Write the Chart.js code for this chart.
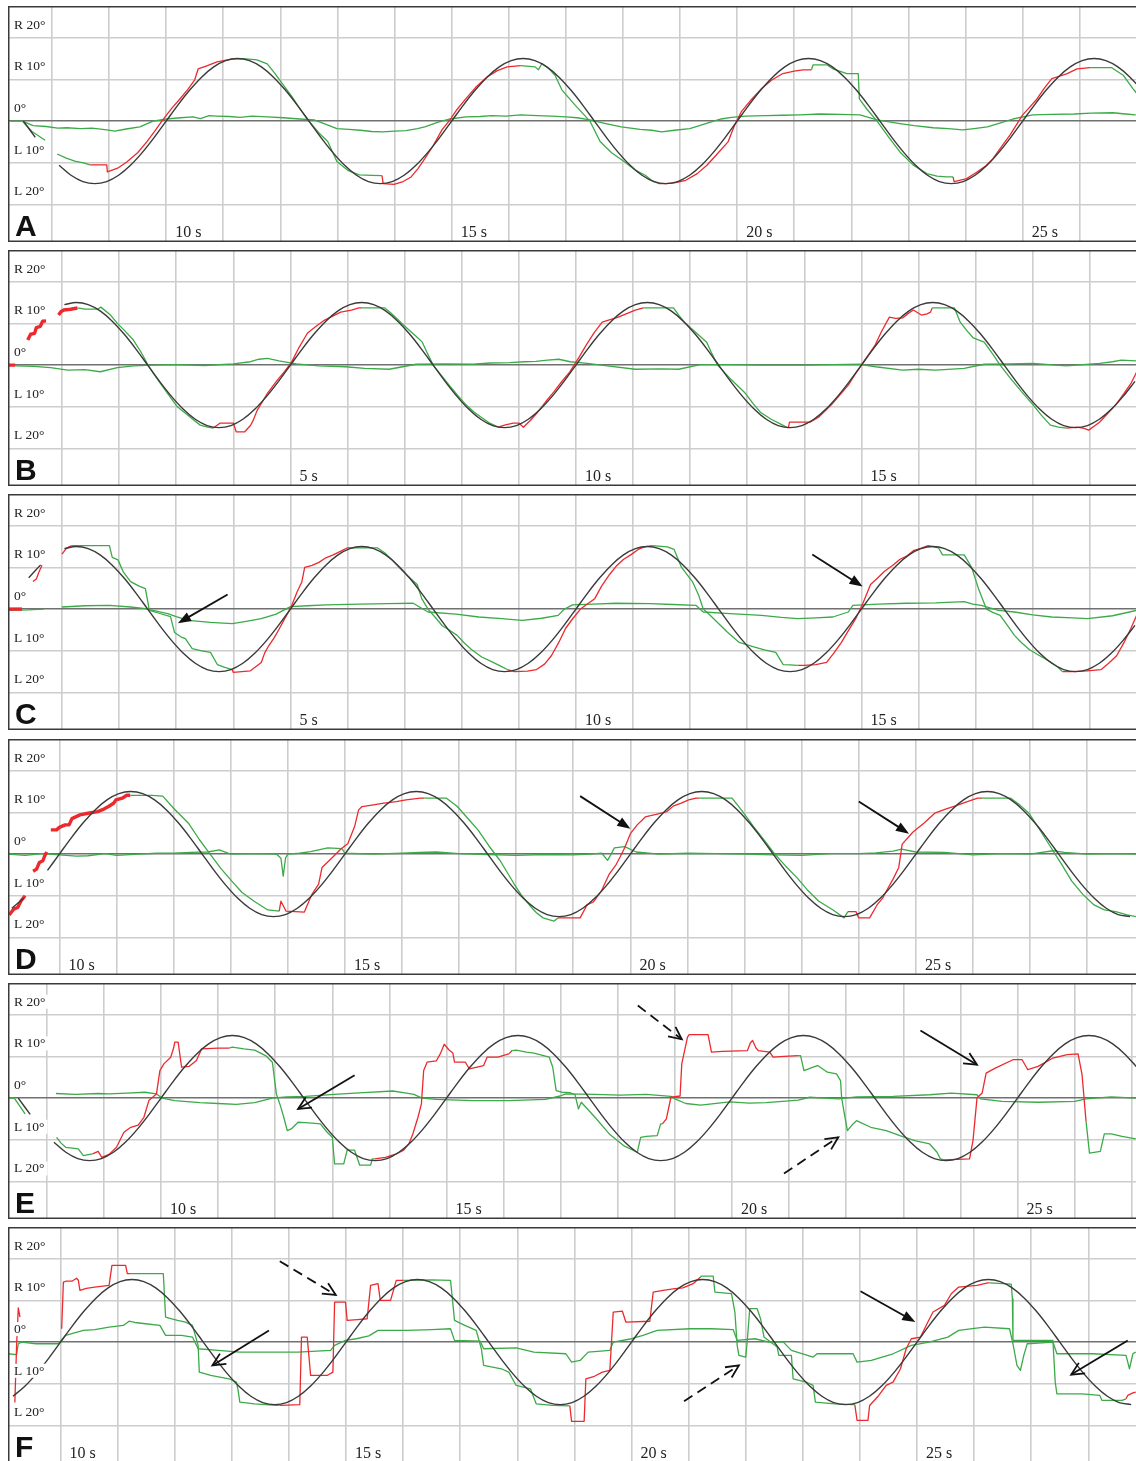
<!DOCTYPE html>
<html>
<head>
<meta charset="utf-8">
<script src="https://cdn.jsdelivr.net/npm/chart.js"></script>
<style>
  body { margin: 0; background: #fff; }
  #page { position: relative; width: 1136px; height: 1461px; overflow: hidden; }
  canvas { position: absolute; left: 8px; }
</style>
</head>
<body>
<div id="page"></div>
<script>
// axis ticks and labels
const Y_TICKS = [-20, -10, 0, 10, 20];
const Y_LABELS = ['L 20°', 'L 10°', '0°', 'R 10°', 'R 20°'];

// stimulus (black), one sample every 5/24 s
const STIM_STEP = 5 / 24;
const STIM_DEG = [
  0, 3.9, 7.5, 10.6, 13, 14.5, 15, 14.5, 13, 10.6, 7.5, 3.9, 0, -3.9, -7.5, -10.6, -13, -14.5, -15, -14.5, -13, -10.6, -7.5, -3.9,
  0, 3.9, 7.5, 10.6, 13, 14.5, 15, 14.5, 13, 10.6, 7.5, 3.9, 0, -3.9, -7.5, -10.6, -13, -14.5, -15, -14.5, -13, -10.6, -7.5, -3.9,
  0, 3.9, 7.5, 10.6, 13, 14.5, 15, 14.5, 13, 10.6, 7.5, 3.9, 0, -3.9, -7.5, -10.6, -13, -14.5, -15, -14.5, -13, -10.6, -7.5, -3.9,
  0, 3.9, 7.5, 10.6, 13, 14.5, 15, 14.5, 13, 10.6, 7.5, 3.9, 0, -3.9, -7.5, -10.6, -13, -14.5, -15, -14.5, -13, -10.6, -7.5, -3.9,
  0, 3.9, 7.5, 10.6, 13, 14.5, 15, 14.5, 13, 10.6, 7.5, 3.9, 0, -3.9, -7.5, -10.6, -13, -14.5, -15, -14.5, -13, -10.6, -7.5, -3.9,
  0, 3.9, 7.5, 10.6, 13, 14.5, 15, 14.5, 13, 10.6, 7.5, 3.9, 0, -3.9, -7.5, -10.6, -13, -14.5, -15, -14.5, -13, -10.6, -7.5, -3.9,
  0
];

// ---- panel A ----
const A_STIM = [[7.44, 7.88], [8.06, 27.1]];
const A_RED = [
  [8.67,-10.5],[8.96,-10.5],[8.97,-12.2],[9.15,-11.3],[9.31,-9.8],[9.5,-7.6],[9.66,-5],[9.8,-2.4],[9.94,0.3],[10.1,3.1],[10.24,5.3],[10.38,7.6],[10.5,9.9],[10.56,12.5],[10.7,13.2],[10.89,14.2],[11.17,14.9], null,
  [13.78,-13.1],[13.8,-15.0],[13.99,-15.2],[14.15,-14.5],[14.29,-13.4],[14.41,-11.4],[14.53,-9],[14.68,-5.8],[14.83,-2.1],[14.97,0.3],[15.1,2.9],[15.25,5.4],[15.42,8.1],[15.62,10.6],[15.8,12.1],[15.97,13],[16.21,13.3], null,
  [18.63,-15],[18.75,-15],[18.9,-14.8],[19.1,-14.2],[19.3,-12.6],[19.47,-10.6],[19.65,-7.9],[19.84,-5],[19.95,-1.2],[20.07,2.2],[20.25,5.2],[20.43,7.8],[20.6,9.8],[20.8,11.4],[21.0,12.0],[21.15,12.3],[21.3,12.3], null,
  [23.78,-13.4],[23.8,-14.5],[24.02,-13.8],[24.2,-12.2],[24.35,-10.8],[24.48,-9],[24.62,-6.3],[24.78,-3.3],[25.0,1.5],[25.12,3.3],[25.25,5.3],[25.38,7.9],[25.51,10.2],[25.65,10.8],[25.78,11.4],[25.95,12.5],[26.18,12.8]
];
const A_GREEN = [
  [7.48,0],[7.65,-2.5],[7.88,-4.6], null,
  [8.09,-7.9],[8.25,-8.9],[8.4,-9.6],[8.55,-10.0],[8.67,-10.5], null,
  [11.17,14.9],[11.4,14.9],[11.59,14.7],[11.77,13.7],[11.9,11.5],[12.05,8.7],[12.2,5.9],[12.35,2.8],[12.5,0],[12.68,-2.9],[12.83,-4.9],[12.99,-9.7],[13.18,-11.8],[13.38,-12.9],[13.6,-13.0],[13.78,-13.1], null,
  [16.21,13.3],[16.46,13],[16.52,12.3],[16.58,13.8],[16.7,12.6],[16.81,11.0],[16.93,7.5],[17.15,4],[17.3,1.8],[17.42,0],[17.6,-4.9],[17.8,-7.6],[18.02,-9.7],[18.2,-11.6],[18.39,-13],[18.5,-14.2],[18.63,-15], null,
  [21.3,12.3],[21.33,13.5],[21.57,13.5],[21.68,12.5],[21.92,11.4],[22.12,11.4],[22.14,5.3],[22.27,2.9],[22.45,0],[22.65,-3.8],[22.85,-7.4],[23.08,-10.5],[23.32,-12.6],[23.5,-13.2],[23.67,-13.4],[23.78,-13.4], null,
  [26.18,12.8],[26.56,12.8],[26.76,11],[26.93,7.8],[26.99,6.8]
];
const A_ZERO = [
  [7.27,0],[7.48,0],[7.67,-1.1],[7.9,-1.3],[8.1,-1.7],[8.26,-1.6],[8.5,-1.8],[8.7,-1.7],[8.96,-2.1],[9.1,-2.4],[9.3,-1.9],[9.54,-1.4],[9.77,0],[10.01,0.5],[10.25,0.8],[10.47,1.0],[10.6,0.6],[10.75,1.3],[10.89,1.2],[11.1,1.1],[11.3,0.9],[11.5,1.2],[11.77,1.0],[12.05,0.8],[12.34,0.5],[12.59,0.3],[12.8,-0.8],[12.99,-1.8],[13.2,-2.0],[13.4,-2.2],[13.6,-2.5],[13.8,-2.6],[14.0,-2.4],[14.2,-2.3],[14.4,-1.8],[14.53,-1.4],[14.75,-0.3],[14.97,0.5],[15.25,1.0],[15.5,1.1],[15.7,1.3],[15.95,1.2],[16.21,1.5],[16.5,1.3],[16.75,1.2],[17.0,1.0],[17.2,0.8],[17.42,0.3],[17.7,-0.6],[17.97,-1.4],[18.3,-2.0],[18.5,-2.2],[18.68,-2.6],[18.9,-2.2],[19.17,-1.8],[19.45,-0.6],[19.72,0.5],[19.9,0.9],[20.14,1.2],[20.5,1.3],[20.8,1.4],[21.1,1.5],[21.45,1.7],[21.8,1.6],[22.15,1.5],[22.3,0.9],[22.45,0.3],[22.85,-0.6],[23.1,-1.1],[23.43,-1.6],[23.7,-1.8],[23.95,-2.1],[24.15,-1.8],[24.38,-1.4],[24.6,-0.5],[24.83,0.5],[25.0,1.0],[25.18,1.5],[25.5,1.6],[25.9,1.7],[26.2,1.9],[26.58,2.0],[26.8,1.7],[26.98,1.5]
];

// ---- panel B ----
const B_STIM = [[0.3, 0.62], [0.95, 19.9]];
const B_THICK = [[0.05,0],[0.18,0], null, [0.40,6.0],[0.45,7.4],[0.52,7.6],[0.55,9.0],[0.62,9.3],[0.66,10.5],[0.72,10.6], null, [0.94,12.0],[0.98,12.8],[1.03,13.2],[1.15,13.4],[1.27,13.7]];
const B_RED = [
  [3.65,-15.1],[3.77,-13.9],[4.0,-13.9],[4.05,-16],[4.2,-16],[4.3,-14.5],[4.35,-13.2],[4.42,-10.8],[4.6,-6.7],[4.77,-3.6],[4.9,-1.5],[5.02,0.7],[5.15,4.2],[5.3,7.7],[5.45,9.3],[5.6,10.8],[5.75,11.8],[5.88,12.7],[6.07,13.2],[6.2,13.7],[6.26,13.7], null,
  [8.64,-14.9],[8.75,-14.4],[8.9,-13.9],[9.0,-13.9],[9.08,-14.9],[9.2,-13.3],[9.33,-11.3],[9.47,-8.8],[9.61,-6.5],[9.75,-4.0],[9.89,-1.7],[10.05,1.8],[10.18,4.8],[10.32,7.8],[10.46,10.3],[10.6,10.9],[10.74,11.5],[10.9,12.4],[11.04,13.2],[11.18,13.7], null,
  [13.72,-15.1],[13.74,-13.7],[14.1,-13.7],[14.25,-12.5],[14.36,-11.0],[14.47,-9.6],[14.62,-7.2],[14.77,-4.8],[14.88,-2.4],[15.0,0],[15.12,2.4],[15.24,4.8],[15.35,8.0],[15.49,11.5],[15.6,11.2],[15.72,11.3],[15.82,12.4],[15.91,13.2],[16.05,12.0],[16.15,12.3],[16.21,12.7],[16.24,13.7], null,
  [18.59,-15.1],[18.78,-14.9],[18.9,-15.2],[18.98,-15.6],[19.08,-14.6],[19.17,-13.7],[19.3,-11.8],[19.45,-9.6],[19.6,-6.8],[19.72,-4.4],[19.82,-1.7]
];
const B_GREEN = [
  [1.27,13.7],[1.4,13.4],[1.62,13.4],[1.68,13.9],[1.85,12],[1.97,10],[2.1,8.2],[2.25,6],[2.38,3.2],[2.5,0.2],[2.6,-2.0],[2.72,-4.3],[2.87,-7.2],[3.02,-10],[3.2,-12],[3.3,-13.1],[3.42,-14.4],[3.55,-14.9],[3.65,-15.1], null,
  [6.26,13.7],[6.65,13.7],[6.75,12.6],[6.84,11.5],[6.98,9.6],[7.12,7.9],[7.2,6.9],[7.31,5.5],[7.4,2.8],[7.5,0],[7.64,-2.4],[7.78,-4.8],[7.93,-7.3],[8.08,-9.6],[8.22,-11.3],[8.36,-12.7],[8.5,-14.0],[8.64,-14.9], null,
  [11.18,13.7],[11.71,13.7],[11.8,12.0],[11.9,10.3],[12.1,7.8],[12.29,5.5],[12.38,2.8],[12.48,0],[12.7,-3.2],[12.95,-6.5],[13.1,-9.2],[13.23,-11.3],[13.42,-13.0],[13.62,-14.4],[13.72,-15.1], null,
  [16.24,13.7],[16.63,13.7],[16.73,10.3],[16.85,8.2],[16.96,6.5],[17.15,5.5],[17.3,2.6],[17.43,0],[17.6,-3.0],[17.8,-6.3],[18.01,-9.6],[18.15,-12.0],[18.31,-14.4],[18.45,-14.9],[18.59,-15.1]
];
const B_ZERO = [
  [0.18,-0.2],[0.5,-0.3],[0.8,-0.6],[1.1,-1.2],[1.4,-1.1],[1.67,-1.6],[1.97,-0.6],[2.25,-0.2],[2.6,0],[3.0,0.1],[3.5,-0.1],[4.0,0.3],[4.3,0.8],[4.45,1.4],[4.6,1.6],[4.8,1.0],[5.1,0.3],[5.5,-0.2],[5.96,-0.4],[6.3,-0.8],[6.73,-1.0],[7.2,0.2],[7.7,0.3],[8.2,0.2],[8.5,0.5],[8.84,0.6],[9.1,0.8],[9.3,0.9],[9.5,1.2],[9.7,1.4],[9.9,0.8],[10.2,0.4],[10.55,-0.2],[11.04,-1.0],[11.5,-0.9],[11.8,-1.0],[12.18,0.1],[12.7,0.1],[13.3,0],[14.0,0],[14.5,0.1],[14.97,0.2],[15.25,-0.4],[15.72,-1.2],[16.0,-1.0],[16.3,-1.2],[16.8,-0.8],[17.15,0.2],[17.6,0.3],[18.0,0.4],[18.59,-0.2],[19.17,0.4],[19.4,0.8],[19.55,1.2],[19.82,1.0]
];

// ---- panel C ----
const C_STIM = [[0.3, 0.68], [0.98, 19.9]];
const C_THICK = [[0.05,0],[0.3,0]];
const C_RED = [
  [0.49,6.6],[0.55,7.2],[0.6,9.0],[0.65,10.5], null,
  [1.0,13.2],[1.08,14.6],[1.17,15.2], null,
  [3.98,-14.5],[4.0,-15.2],[4.3,-14.8],[4.49,-12.8],[4.55,-10.5],[4.62,-8.8],[4.72,-6.8],[4.81,-4.6],[4.9,-2.3],[5.0,0.1],[5.12,4.2],[5.2,6.5],[5.25,10],[5.38,10.5],[5.5,11.2],[5.62,12.3],[5.75,13],[5.9,14.0],[6.0,14.7],[6.1,14.7], null,
  [8.8,-14.5],[8.92,-15],[9.15,-14.9],[9.31,-14.5],[9.45,-13.2],[9.57,-11.2],[9.7,-8.0],[9.82,-4.6],[9.95,-2.2],[10.08,0],[10.2,1.2],[10.33,2.5],[10.45,5.5],[10.59,8.3],[10.7,10.2],[10.83,11.9],[10.96,13.0],[11.09,14.3],[11.2,14.9],[11.34,15.2], null,
  [13.88,-13.5],[14.0,-13.5],[14.2,-13.3],[14.39,-12.8],[14.52,-10.5],[14.65,-8],[14.78,-5.0],[14.9,-2.3],[15.03,1.5],[15.16,5.9],[15.28,7.4],[15.4,9],[15.55,10.5],[15.67,11.9],[15.8,12.8],[15.91,14],[16.05,14.6],[16.17,15.2],[16.35,14.7], null,
  [18.52,-15],[18.7,-15],[18.95,-14.8],[19.2,-14.5],[19.33,-13.0],[19.47,-11.2],[19.6,-8.0],[19.72,-4.6],[19.82,-1.5]
];
const C_GREEN = [
  [1.17,15.2],[1.83,15.2],[1.88,12.4],[1.98,11.8],[2.07,9],[2.2,6.6],[2.35,5.5],[2.46,4.9],[2.53,-0.3],[2.7,-1.0],[2.9,-1.8],[2.97,-5.6],[3.1,-6.8],[3.16,-7.1],[3.28,-9.5],[3.45,-10.0],[3.6,-10.4],[3.72,-13.3],[3.85,-14.0],[3.98,-14.5], null,
  [6.1,14.7],[6.52,14.7],[6.65,13.5],[6.78,11.8],[6.9,10],[7.05,8.0],[7.22,5.9],[7.3,2.5],[7.41,0],[7.55,-2.2],[7.66,-4],[7.8,-5.2],[7.92,-6.3],[8.05,-8.2],[8.17,-9.7],[8.35,-11.5],[8.55,-12.8],[8.7,-13.8],[8.8,-14.5], null,
  [11.34,15.2],[11.6,14.9],[11.72,14.3],[11.85,10],[11.95,8.2],[12.04,6.6],[12.15,3.3],[12.23,0],[12.35,-1.5],[12.48,-3.2],[12.65,-5.5],[12.86,-8],[13.1,-9.0],[13.3,-9.8],[13.5,-10.4],[13.63,-13.3],[13.75,-13.4],[13.88,-13.5], null,
  [16.35,14.7],[16.42,13.0],[16.8,13.0],[16.93,10],[17.05,4.9],[17.19,0],[17.3,-0.8],[17.43,-1.5],[17.55,-3.8],[17.68,-6.3],[17.8,-8.0],[17.94,-9.7],[18.1,-11.0],[18.33,-12.8],[18.45,-14.0],[18.52,-15]
];
const C_ZERO = [
  [0.05,-0.3],[0.4,-0.2],[0.68,0], null,
  [1.0,0.5],[1.4,0.8],[1.83,0.9],[2.2,0.5],[2.46,0.1],[2.85,-1.1],[3.0,-1.8],[3.21,-2.7],[3.6,-3.2],[3.98,-3.5],[4.2,-3.0],[4.49,-2.3],[4.75,-1.2],[5.0,0.6],[5.3,0.8],[5.63,1],[6.2,1.2],[6.7,1.3],[7.15,1.4],[7.41,-0.7],[7.9,-1.2],[8.3,-1.9],[8.7,-2.3],[9.06,-2.7],[9.4,-2.2],[9.69,-1.5],[9.8,0],[9.94,1],[10.3,1.2],[10.7,1.4],[11.3,1.3],[11.7,1.1],[12.1,0.9],[12.23,-0.7],[12.7,-1.1],[13.25,-1.5],[13.6,-2.0],[13.88,-2.3],[14.2,-2.1],[14.5,-1.9],[14.77,-0.7],[14.85,0.9],[15.3,1.2],[15.79,1.4],[16.3,1.5],[16.8,1.8],[16.95,1.2],[17.1,0.9],[17.4,-0.3],[17.68,-0.7],[18.0,-1.4],[18.33,-1.9],[18.7,-2.1],[18.96,-2.3],[19.4,-1.6],[19.82,-0.3]
];
const C_ARROWS = [
  { from: [3.9, 3.5], to: [3.03, -3.4], kind: 'solid' },
  { from: [14.14, 13.1], to: [15.02, 5.4], kind: 'solid' }
];

// ---- panel D ----
const D_STIM = [[9.1, 9.48], [9.75, 28.9]];
const D_THICK = [
  [9.12,-14.6],[9.2,-13.2],[9.27,-12.8],[9.33,-11.2],[9.4,-10], null,
  [9.54,-4.1],[9.6,-3.6],[9.65,-2.0],[9.71,-1.6],[9.75,-0.2],[9.78,0.5], null,
  [9.85,5.8],[9.95,5.8],[10.0,6.4],[10.1,7.0],[10.17,7.0],[10.22,8.5],[10.36,9.4],[10.5,9.8],[10.67,10.2],[10.78,10.8],[10.86,11.4],[10.95,12.2],[10.99,13],[11.1,13.4],[11.18,14.1],[11.24,14.1]
];
const D_RED = [
  [13.85,-13.7],[13.88,-11.3],[13.97,-13.7],[14.29,-13.9],[14.42,-9.7],[14.54,-7.2],[14.6,-3.2],[14.79,-0.7],[14.93,1.2],[15.05,2.5],[15.17,6.6],[15.24,10.6],[15.3,11.4],[15.5,11.8],[15.68,12.2],[15.9,12.6],[16.07,13],[16.32,13.4],[16.39,13.4], null,
  [18.73,-15.3],[19.12,-15.3],[19.24,-12.2],[19.35,-11.5],[19.49,-8.9],[19.63,-4.8],[19.75,-2.5],[19.82,-0.7],[19.9,1.5],[20.0,4.9],[20.12,7.0],[20.26,8.9],[20.45,9.5],[20.64,10.2],[20.75,11.5],[20.89,12.2],[21.02,13.0],[21.15,13.4],[21.2,13.4], null,
  [23.81,-13.8],[23.95,-13.8],[24.0,-15.3],[24.19,-15.3],[24.32,-12.2],[24.42,-10.5],[24.51,-8.2],[24.6,-6.0],[24.7,-3.2],[24.76,2.4],[24.95,5.3],[25.15,7.5],[25.33,9.8],[25.52,10.8],[25.72,11.7],[25.9,12.6],[26.08,13.4],[26.16,13.4]
];
const D_GREEN = [
  [11.24,14.1],[11.62,14.1],[11.81,13.9],[12.0,11.0],[12.26,7.4],[12.45,3.5],[12.64,0],[12.83,-3.5],[13.02,-6.5],[13.2,-9.2],[13.41,-11.3],[13.65,-13.4],[13.85,-13.7], null,
  [16.39,13.4],[16.78,13.4],[16.97,11.4],[17.15,8.6],[17.33,5.8],[17.52,2.0],[17.72,-1.6],[17.97,-7.3],[18.1,-10.0],[18.23,-12.2],[18.35,-14.0],[18.47,-15.3],[18.66,-16.1],[18.73,-15.3], null,
  [21.2,13.4],[21.78,13.4],[21.95,10.5],[22.16,6.5],[22.35,3.2],[22.53,0],[22.72,-2.9],[22.92,-5.7],[23.1,-8.6],[23.3,-11.3],[23.55,-13.4],[23.74,-15.3],[23.81,-13.8], null,
  [26.16,13.4],[26.66,13.4],[26.8,12.0],[26.98,9.8],[27.18,5.6],[27.36,1.7],[27.55,-2.4],[27.73,-6.5],[27.92,-9.6],[28.12,-12.2],[28.3,-13.4],[28.5,-13.8],[28.7,-14.6],[28.86,-15]
];
const D_ZERO = [
  [9.1,0],[9.4,-0.3],[9.7,0.1],[10.0,-0.2],[10.3,-0.5],[10.5,-0.4],[10.8,0.1],[11.0,-0.3],[11.4,0],[11.7,0.2],[12.0,0.2],[12.3,0.4],[12.6,0.5],[12.8,1.0],[13.0,0],[13.4,0.1],[13.8,0],[13.88,-1],[13.92,-5.3],[13.96,-1],[14.0,0],[14.2,0.2],[14.4,0.6],[14.7,1.5],[14.95,1.3],[15.0,0.2],[15.5,0],[16.0,0.2],[16.3,0.4],[16.6,0.5],[17.0,0.1],[17.5,-0.1],[18.0,-0.3],[18.5,-0.1],[19.0,-0.2],[19.3,0],[19.5,0.2],[19.6,-1.5],[19.65,-0.3],[19.72,1.5],[19.9,1.8],[20.1,0.5],[20.5,0],[21.0,0.2],[21.5,0.1],[22.0,0],[22.5,-0.2],[23.0,-0.3],[23.5,0.1],[24.0,0.1],[24.3,0.3],[24.6,0.7],[24.75,1.2],[25.0,0.5],[25.5,0.4],[26.0,-0.2],[26.5,0.1],[27.0,0],[27.4,0.8],[27.6,0.4],[28.0,0],[28.5,0.1],[28.86,0]
];
const D_ARROWS = [
  { from: [19.12, 13.9], to: [20.0, 6.1], kind: 'solid' },
  { from: [24.0, 12.6], to: [24.88, 4.9], kind: 'solid' }
];

// ---- panel E ----
const E_STIM = [[7.43, 7.76], [8.05, 27.1]];
const E_RED = [
  [8.8,-13.4],[8.9,-12.8],[8.96,-14.2],[9.09,-13.5],[9.22,-11.8],[9.35,-8.2],[9.47,-7],[9.6,-6.5],[9.7,-4.6],[9.79,-0.5],[9.92,1],[9.98,6.6],[10.05,8.2],[10.17,9.8],[10.22,12.0],[10.24,13.4],[10.3,13.4],[10.36,7.4],[10.49,7.6],[10.62,9],[10.71,11.8],[11.0,12],[11.19,12.0], null,
  [13.74,-14.6],[13.93,-14.2],[14.12,-13.4],[14.25,-12.5],[14.34,-11.0],[14.41,-8.6],[14.5,-4.6],[14.56,-1.4],[14.6,6.6],[14.66,8.6],[14.82,8.9],[14.89,10.6],[14.96,12.9],[15.04,11.6],[15.11,10.8],[15.14,8.6],[15.33,8.6],[15.4,7],[15.65,7.8],[15.71,9.8],[15.9,9.8],[16.09,10.6],[16.15,11.4], null,
  [18.78,-6.2],[18.85,-5.0],[18.93,0.2],[19.09,0.5],[19.12,8.2],[19.22,14.6],[19.25,15.2],[19.58,15.2],[19.64,11],[19.83,11.2],[20.27,11.4],[20.32,13.2],[20.36,13.8],[20.42,12.0],[20.46,11.4],[20.66,11],[20.72,9.8],[20.91,10],[21.16,10.2], null,
  [23.71,-14.8],[24.16,-14.6],[24.22,-10.2],[24.29,0],[24.38,1.2],[24.45,6],[24.61,7.2],[24.92,9.2],[25.08,9.2],[25.18,6.8],[25.36,7.6],[25.62,9.6],[25.87,10.4],[26.06,10.6],[26.13,5.6],[26.2,-5.6]
];
const E_GREEN = [
  [7.32,0],[7.43,0],[7.52,-1.8],[7.62,-3.8], null,
  [8.17,-9.4],[8.25,-10.8],[8.33,-11.8],[8.45,-12.0],[8.55,-12.2],[8.64,-13.8],[8.8,-13.4], null,
  [11.19,12.0],[11.25,12.2],[11.45,11.8],[11.64,11.5],[11.83,10.2],[11.95,8.6],[12.02,1],[12.08,-1.4],[12.15,-4.6],[12.21,-7.8],[12.28,-7.4],[12.4,-5.8],[12.52,-5.9],[12.65,-6.0],[12.79,-6.2],[12.91,-8.2],[13.0,-9.4],[13.04,-15.8],[13.2,-15.8],[13.26,-12.5],[13.39,-12.5],[13.48,-16.1],[13.67,-16.1],[13.7,-14.6],[13.74,-14.6], null,
  [16.15,11.4],[16.22,11.5],[16.4,11.0],[16.53,10.8],[16.7,10.2],[16.8,9.8],[16.86,7.4],[16.92,1.8],[17.02,1.4],[17.16,1.3],[17.25,0.8],[17.31,-2.6],[17.36,-1.0],[17.6,-4.6],[17.85,-8.6],[18.1,-11.4],[18.34,-13],[18.4,-9.4],[18.5,-9.2],[18.69,-9],[18.75,-6.2],[18.78,-6.2], null,
  [21.16,10.2],[21.2,10.2],[21.26,6.6],[21.42,7.4],[21.5,7.8],[21.67,6.2],[21.83,5.8],[21.9,4.2],[21.92,0],[21.96,-3.2],[22.02,-7.8],[22.12,-6.2],[22.18,-5.4],[22.43,-7],[22.7,-7.8],[22.94,-9],[23.2,-10.2],[23.46,-11.0],[23.59,-13],[23.65,-14.6],[23.71,-14.8], null,
  [26.2,-5.6],[26.26,-13.2],[26.45,-12.8],[26.52,-8.6],[26.64,-8.6],[26.83,-9.2],[27.07,-9.8]
];
const E_ZERO = [
  [8.16,1.1],[8.5,0.9],[8.9,1.1],[9.09,1.0],[9.4,1.2],[9.72,1.4],[9.92,1.0],[10.02,0],[10.24,-0.6],[10.68,-1.1],[11.0,-1.3],[11.32,-1.5],[11.64,-1.1],[11.95,0],[12.2,0.3],[12.53,0.4],[13.03,0.9],[13.55,1.3],[14.06,1.7],[14.3,1.2],[14.43,0.9],[14.57,0],[14.82,-0.3],[15.46,-0.6],[16.09,-0.6],[16.73,-0.3],[16.99,0.5],[17.09,1.0],[17.6,0.9],[18.04,0.7],[18.5,0.9],[18.93,0.4],[19.0,-0.2],[19.19,-1.3],[19.45,-1.7],[19.96,-0.9],[20.3,-1.2],[20.6,-1.1],[21.16,-0.5],[21.36,0.2],[21.86,-0.2],[22.18,0.3],[22.82,0.4],[23.46,0.8],[23.84,1.2],[24.29,0.8],[24.35,-0.2],[24.73,-0.8],[25.36,-1.0],[26.0,-0.8],[26.2,-0.2],[26.64,0.3],[27.07,0]
];
const E_ARROWS = [
  { from: [13.39, 5.5], to: [12.4, -2.6], kind: 'open' },
  { from: [18.35, 22.2], to: [19.12, 14.1], kind: 'dashed' },
  { from: [20.91, -18.1], to: [21.86, -9.4], kind: 'dashed' },
  { from: [23.3, 16.2], to: [24.29, 8.0], kind: 'open' }
];

// ---- panel F ----
const F_STIM = [[9.08, 28.9]];
const F_RED = [
  [9.2,-14.5],[9.23,-1.0],[9.26,8.2],[9.29,6.0], null,
  [10.02,3.2],[10.05,14.4],[10.1,14.6],[10.2,14.6],[10.28,15.3],[10.31,14.9],[10.34,12.4],[10.45,12.9],[10.6,13.2],[10.85,13.6],[10.9,18.4],[11.14,18.4],[11.17,16.4],[11.23,16.4], null,
  [13.84,-15.2],[14.19,-15],[14.22,1.2],[14.32,1.2],[14.38,-8],[14.67,-8],[14.77,-7.2],[14.8,9.6],[14.99,9.6],[15.02,5.2],[15.2,5.4],[15.37,5.6],[15.43,13.6],[15.56,14],[15.6,10],[15.78,10],[15.88,14.8],[16.01,14.8], null,
  [18.92,-15.3],[18.95,-19],[19.17,-19],[19.2,-8.8],[19.35,-8.2],[19.49,-7.2],[19.62,-6.8],[19.68,7.2],[19.84,7.4],[19.9,4.8],[20.32,5],[20.38,12],[20.55,12.4],[20.76,12.8],[20.9,13.0],[21.08,14],[21.21,15.6], null,
  [23.91,-15],[23.95,-18.8],[24.14,-18.8],[24.17,-15.2],[24.33,-12.8],[24.46,-10.4],[24.58,-9.6],[24.71,-6.4],[24.81,-1.6],[24.9,0.8],[25.06,1.2],[25.19,4.8],[25.28,7.2],[25.48,8.8],[25.6,11.6],[25.73,13.2],[26.05,13.6],[26.24,14.2],[26.27,14.2], null,
  [28.66,-13.6],[28.69,-12.8],[28.78,-12.2],[28.83,-12]
];
const F_GREEN = [
  [11.23,16.4],[11.8,16.4],[11.84,6],[11.93,5.6],[12.05,5.2],[12.19,4.8],[12.31,4.0],[12.41,-0.8],[12.43,-7.2],[12.63,-8],[12.95,-8.8],[13.08,-9.6],[13.11,-11.6],[13.14,-14.4],[13.4,-14.8],[13.78,-15.2],[13.84,-15.2], null,
  [16.01,14.8],[16.5,14.9],[16.83,14.8],[16.9,5.2],[17.08,4.0],[17.28,2.8],[17.37,-1.6],[17.41,-5.6],[17.72,-6.4],[17.85,-7.2],[17.98,-10.4],[18.23,-11.2],[18.33,-14.8],[18.62,-15.2],[18.92,-15.3], null,
  [21.21,15.6],[21.22,15.8],[21.43,15.8],[21.46,12],[21.75,11.6],[21.81,7.2],[21.85,-0.8],[21.88,-3.2],[22.0,-3.6],[22.03,0.8],[22.07,8],[22.2,8],[22.26,5.6],[22.32,1.2],[22.55,-1.2],[22.58,-3.2],[22.8,-3.2],[22.83,-8.8],[23.06,-9.6],[23.18,-10.4],[23.22,-14.4],[23.56,-14.8],[23.88,-15],[23.91,-15], null,
  [26.27,14.2],[26.5,14.0],[26.65,13.9],[26.67,10.4],[26.68,0.4],[27.0,0.4],[27.38,0.4],[27.42,-9.6],[27.45,-12.4],[27.89,-12.4],[28.2,-12.8],[28.24,-14],[28.59,-14],[28.66,-13.6]
];
const F_ZERO = [
  [9.08,-2.8],[9.23,-3.0],[9.26,-0.4],[9.32,0],[9.57,-0.4],[9.96,-0.4],[10.09,1.6],[10.4,2.8],[10.6,3.0],[10.85,3.6],[11.1,4.0],[11.2,5.0],[11.3,4.7],[11.49,4.4],[11.74,4.0],[11.84,1.6],[12.12,1.6],[12.31,1.2],[12.41,-1.6],[12.76,-2.0],[13.14,-2.4],[13.71,-2.4],[14.16,-2.4],[14.73,-2.0],[14.8,-0.8],[14.99,0.4],[15.18,0.8],[15.4,1.5],[15.56,2.8],[16.07,2.8],[16.5,3.0],[16.83,3.2],[16.9,0.4],[17.35,0.2],[17.41,-1.6],[17.98,-1.4],[18.29,-2.4],[18.85,-2.8],[18.95,-4.8],[19.1,-4.4],[19.24,-2.4],[19.62,-2.0],[19.68,0],[20.0,0.8],[20.2,1.6],[20.45,2.8],[21.02,3.2],[21.4,3.2],[21.78,3.0],[21.85,0.4],[22.16,0.8],[22.41,0],[22.66,0],[22.8,-2.0],[23.18,-3.6],[23.25,-2.8],[23.88,-2.8],[23.95,-4.8],[24.2,-4.4],[24.58,-2.8],[24.9,-0.8],[25.21,0],[25.54,1.2],[25.73,2.8],[26.18,3.6],[26.62,3.2],[26.68,-0.4],[26.75,-5.6],[26.81,-6.8],[26.87,-3.2],[26.93,-0.4],[27.38,0],[27.45,-2.8],[28.08,-2.8],[28.66,-3.2],[28.72,-6.4],[28.78,-2.8],[28.83,-2.4]
];
const F_ARROWS = [
  { from: [13.84, 19.4], to: [14.82, 11.3], kind: 'dashed' },
  { from: [13.65, 2.8], to: [12.66, -5.6], kind: 'open' },
  { from: [20.92, -14.2], to: [21.88, -5.6], kind: 'dashed' },
  { from: [24.01, 12.2], to: [24.97, 4.8], kind: 'solid' },
  { from: [28.69, 0.4], to: [27.7, -7.8], kind: 'open' }
];

const PANELS = [
  { id: 'A', top: 6,    xMin: 7.23,  times: [10, 15, 20, 25], stim: A_STIM, red: A_RED, green: A_GREEN, zero: A_ZERO, thick: [], arrows: [] },
  { id: 'B', top: 250,  xMin: 0.054, times: [5, 10, 15],      stim: B_STIM, red: B_RED, green: B_GREEN, zero: B_ZERO, thick: B_THICK, arrows: [] },
  { id: 'C', top: 494,  xMin: 0.054, times: [5, 10, 15],      stim: C_STIM, red: C_RED, green: C_GREEN, zero: C_ZERO, thick: C_THICK, arrows: C_ARROWS },
  { id: 'D', top: 739,  xMin: 9.10,  times: [10, 15, 20, 25], stim: D_STIM, red: D_RED, green: D_GREEN, zero: D_ZERO, thick: D_THICK, arrows: D_ARROWS },
  { id: 'E', top: 983,  xMin: 7.32,  times: [10, 15, 20, 25], stim: E_STIM, red: E_RED, green: E_GREEN, zero: E_ZERO, thick: [], arrows: E_ARROWS },
  { id: 'F', top: 1227, xMin: 9.08,  times: [10, 15, 20, 25], stim: F_STIM, red: F_RED, green: F_GREEN, zero: F_ZERO, thick: [], arrows: F_ARROWS }
];

const W = 1128, H = 236;
const X_SPAN = W / 57.1;
const RED = '#ec2a2e', GREEN = '#3caa48', STIM = '#3a3a3a';

// [t, deg] pairs with null as a break -> chart points
function pts(arr) {
  const out = [];
  let lastX = 0;
  arr.forEach(p => {
    if (p === null) out.push({ x: lastX, y: null });
    else { out.push({ x: p[0], y: p[1] }); lastX = p[0]; }
  });
  return out;
}

function stimPts(spans) {
  const out = [];
  spans.forEach((s, i) => {
    if (i) out.push({ x: s[0], y: null });
    STIM_DEG.forEach((v, k) => {
      const t = k * STIM_STEP;
      if (t >= s[0] && t <= s[1]) out.push({ x: t, y: v });
    });
  });
  return out;
}

function drawArrow(ctx, x0, y0, x1, y1, kind) {
  const ang = Math.atan2(y1 - y0, x1 - x0), L = 14;
  ctx.strokeStyle = '#111';
  ctx.fillStyle = '#111';
  ctx.lineWidth = 1.8;
  ctx.setLineDash(kind === 'dashed' ? [10, 6] : []);
  const back = kind === 'solid' ? L * 0.8 : 0;
  ctx.beginPath();
  ctx.moveTo(x0, y0);
  ctx.lineTo(x1 - back * Math.cos(ang), y1 - back * Math.sin(ang));
  ctx.stroke();
  ctx.setLineDash([]);
  const spread = kind === 'solid' ? 0.36 : 0.45;
  const a1 = ang + Math.PI - spread, a2 = ang + Math.PI + spread;
  ctx.beginPath();
  ctx.moveTo(x1 + L * Math.cos(a1), y1 + L * Math.sin(a1));
  ctx.lineTo(x1, y1);
  ctx.lineTo(x1 + L * Math.cos(a2), y1 + L * Math.sin(a2));
  if (kind === 'solid') { ctx.closePath(); ctx.fill(); } else ctx.stroke();
}

function decor(p) {
  return {
    id: 'decor' + p.id,
    afterDatasetsDraw(chart) {
      const { ctx, chartArea: a, scales: { x, y } } = chart;
      ctx.save();
      p.arrows.forEach(ar => drawArrow(ctx,
        x.getPixelForValue(ar.from[0]), y.getPixelForValue(ar.from[1]),
        x.getPixelForValue(ar.to[0]), y.getPixelForValue(ar.to[1]), ar.kind));

      ctx.font = '13.5px "Liberation Serif"';
      ctx.textBaseline = 'alphabetic';
      Y_TICKS.forEach((v, i) => {
        const by = y.getPixelForValue(v) - 9;
        const w = ctx.measureText(Y_LABELS[i]).width;
        ctx.fillStyle = '#fff';
        ctx.fillRect(a.left + 4, by - 11, w + 5, 14);
        ctx.fillStyle = '#222';
        ctx.fillText(Y_LABELS[i], a.left + 6, by);
      });

      ctx.font = '16px "Liberation Serif"';
      ctx.fillStyle = '#222';
      p.times.forEach(t => ctx.fillText(t + ' s', x.getPixelForValue(t) + 9, a.bottom - 5));

      ctx.font = 'bold 30px "Liberation Sans"';
      ctx.fillStyle = '#111';
      ctx.fillText(p.id, a.left + 7, a.bottom - 6);

      ctx.strokeStyle = '#3a3a3a';
      ctx.lineWidth = 1.5;
      ctx.beginPath();
      ctx.moveTo(a.right, a.top + 0.75);
      ctx.lineTo(a.left + 0.75, a.top + 0.75);
      ctx.lineTo(a.left + 0.75, a.bottom - 0.75);
      ctx.lineTo(a.right, a.bottom - 0.75);
      ctx.stroke();
      ctx.restore();
    }
  };
}

const page = document.getElementById('page');
PANELS.forEach(p => {
  const cv = document.createElement('canvas');
  cv.width = W; cv.height = H;
  cv.style.top = p.top + 'px';
  page.appendChild(cv);

  new Chart(cv.getContext('2d'), {
    type: 'line',
    data: {
      datasets: [
        { data: stimPts(p.stim), borderColor: STIM, borderWidth: 1.4, tension: 0.35, order: 0 },
        { data: pts(p.green), borderColor: GREEN, borderWidth: 1.3, order: 1 },
        { data: pts(p.red), borderColor: RED, borderWidth: 1.3, order: 2 },
        { data: pts(p.thick), borderColor: RED, borderWidth: 3.4, order: 2 },
        { data: pts(p.zero), borderColor: GREEN, borderWidth: 1.3, order: 3 }
      ]
    },
    options: {
      responsive: false,
      animation: false,
      events: [],
      layout: { padding: 0 },
      elements: { point: { radius: 0 }, line: { borderJoinStyle: 'round' } },
      plugins: { legend: { display: false }, tooltip: { enabled: false } },
      scales: {
        x: {
          type: 'linear', min: p.xMin, max: p.xMin + X_SPAN,
          ticks: { display: false },
          border: { display: false },
          grid: { color: '#cdcdcd', lineWidth: 1.6, drawTicks: false },
          afterBuildTicks: s => {
            s.ticks = [];
            for (let v = Math.ceil(s.min); v <= s.max; v++) s.ticks.push({ value: v });
          }
        },
        y: {
          type: 'linear', min: -29.0, max: 27.6,
          ticks: { display: false },
          border: { display: false },
          grid: {
            color: c => (c.tick && c.tick.value === 0 ? '#707070' : '#cdcdcd'),
            lineWidth: 1.6, drawTicks: false
          },
          afterBuildTicks: s => { s.ticks = Y_TICKS.map(v => ({ value: v })); }
        }
      }
    },
    plugins: [decor(p)]
  });
});
</script>
</body>
</html>
